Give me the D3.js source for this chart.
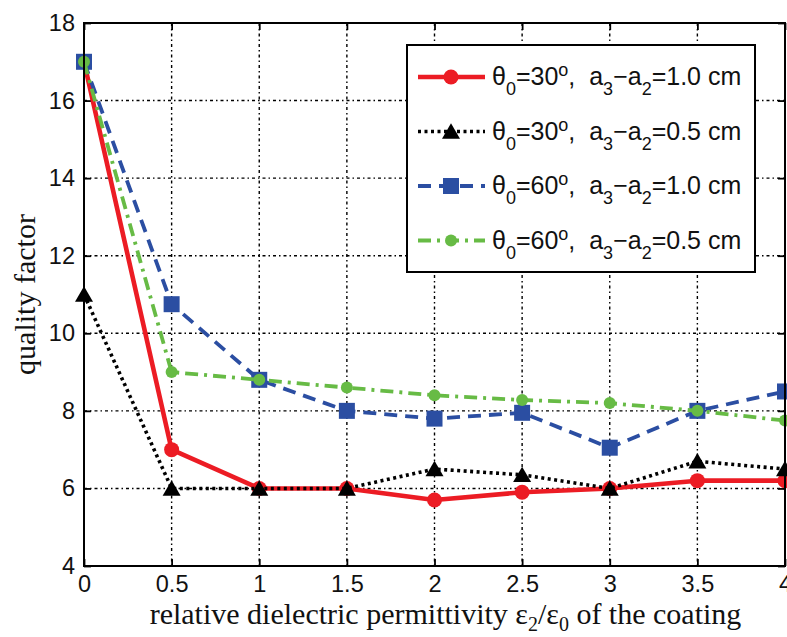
<!DOCTYPE html>
<html>
<head>
<meta charset="utf-8">
<script src="https://cdn.jsdelivr.net/npm/d3@7"></script>
<style>
  html, body { margin: 0; padding: 0; background: #fff; }
  svg { display: block; }
</style>
</head>
<body>
<svg id="chart" width="787" height="637"></svg>
<script>
// Relative permittivity of the coating (x) and quality factor of each configuration
const epsRatio = [0, 0.5, 1, 1.5, 2, 2.5, 3, 3.5, 4];
const q30_10 = [17, 7.0, 6.0, 6.0, 5.7, 5.9, 6.0, 6.2, 6.2];
const q30_05 = [11, 6.0, 6.0, 6.0, 6.5, 6.35, 6.0, 6.7, 6.5];
const q60_10 = [17, 10.75, 8.8, 8.0, 7.8, 7.95, 7.05, 8.0, 8.5];
const q60_05 = [17, 9.0, 8.8, 8.6, 8.4, 8.28, 8.2, 8.0, 7.75];
const xTicks = [0, 0.5, 1, 1.5, 2, 2.5, 3, 3.5, 4];
const yTicks = [4, 6, 8, 10, 12, 14, 16, 18];
const seriesAngles = ["30", "30", "60", "60"];
const seriesGaps = ["1.0", "0.5", "1.0", "0.5"];

const svg = d3.select("#chart");
const plotL = 84, plotR = 785, plotT = 23, plotB = 566;

const x = d3.scaleLinear().domain([0, 4]).range([plotL, plotR]);
const y = d3.scaleLinear().domain([4, 18]).range([plotB, plotT]);

// grid
const grid = svg.append("g").attr("stroke", "#000").attr("stroke-width", 1.4)
  .attr("stroke-dasharray", "3,3,1.5,3").attr("fill", "none");
grid.selectAll("line.v").data(xTicks.filter(d => d > 0 && d < 4)).join("line")
  .attr("class", "v")
  .attr("x1", d => x(d)).attr("x2", d => x(d)).attr("y1", plotT).attr("y2", plotB);
grid.selectAll("line.h").data(yTicks.filter(d => d > 4 && d < 18)).join("line")
  .attr("class", "h")
  .attr("x1", plotL).attr("x2", plotR).attr("y1", d => y(d)).attr("y2", d => y(d));

// axes with inward ticks on all four sides
const tickFont = "'Liberation Sans', Arial, sans-serif";
const gx = svg.append("g").attr("transform", `translate(0,${plotB})`)
  .call(d3.axisBottom(x).tickValues(xTicks).tickSizeInner(-7).tickSizeOuter(0).tickPadding(9)
    .tickFormat(d3.format("")));
const gxTop = svg.append("g").attr("transform", `translate(0,${plotT})`)
  .call(d3.axisTop(x).tickValues(xTicks).tickSizeInner(-7).tickSizeOuter(0).tickFormat(""));
const gy = svg.append("g").attr("transform", `translate(${plotL},0)`)
  .call(d3.axisLeft(y).tickValues(yTicks).tickSizeInner(-7).tickSizeOuter(0).tickPadding(9)
    .tickFormat(d3.format("")));
const gyRight = svg.append("g").attr("transform", `translate(${plotR},0)`)
  .call(d3.axisRight(y).tickValues(yTicks).tickSizeInner(-7).tickSizeOuter(0).tickFormat(""));
[gx, gxTop, gy, gyRight].forEach(g => {
  g.select(".domain").remove();
  g.selectAll(".tick line").attr("stroke", "#000").attr("stroke-width", 1.8);
  g.selectAll("text").attr("font-family", tickFont).attr("font-size", 23.5).attr("fill", "#111");
});

// series
const series = [
  { values: q30_10, color: "#ec1c24", width: 4.6, dash: null, marker: "circle", size: 7.5 },
  { values: q30_05, color: "#000000", width: 3.6, dash: "3,3.5", marker: "triangle", size: 9 },
  { values: q60_10, color: "#2b4ea2", width: 3.8, dash: "13,8", marker: "square", size: 8 },
  { values: q60_05, color: "#67bb45", width: 3.8, dash: "13,6,3,6", marker: "circle", size: 6 }
];

const line = d3.line().x((d, i) => x(epsRatio[i])).y(d => y(d));

function drawMarker(g, kind, cx, cy, s, color) {
  if (kind === "circle") {
    g.append("circle").attr("cx", cx).attr("cy", cy).attr("r", s).attr("fill", color);
  } else if (kind === "square") {
    g.append("rect").attr("x", cx - s).attr("y", cy - s).attr("width", 2 * s).attr("height", 2 * s)
      .attr("fill", color);
  } else {
    const h = s * 1.6;
    g.append("path")
      .attr("d", `M${cx},${cy - h / 2 - 1}L${cx + s},${cy + h / 2}L${cx - s},${cy + h / 2}Z`)
      .attr("fill", color);
  }
}

series.forEach(s => {
  const g = svg.append("g");
  g.append("path").datum(s.values).attr("d", line).attr("fill", "none")
    .attr("stroke", s.color).attr("stroke-width", s.width)
    .attr("stroke-dasharray", s.dash).attr("stroke-linejoin", "round");
  s.values.forEach((v, i) => drawMarker(g, s.marker, x(epsRatio[i]), y(v), s.size, s.color));
});

// frame
svg.append("rect").attr("x", plotL).attr("y", plotT).attr("width", plotR - plotL).attr("height", plotB - plotT)
  .attr("fill", "none").attr("stroke", "#000").attr("stroke-width", 2);

// legend
const lg = svg.append("g");
lg.append("rect").attr("x", 407).attr("y", 45).attr("width", 348).attr("height", 227)
  .attr("fill", "#fff").attr("stroke", "#000").attr("stroke-width", 2);
series.forEach((s, i) => {
  const cy = 77 + i * 54.5;
  lg.append("line").attr("x1", 418).attr("x2", 485).attr("y1", cy).attr("y2", cy)
    .attr("stroke", s.color).attr("stroke-width", s.width).attr("stroke-dasharray", s.dash);
  drawMarker(lg, s.marker, 451, cy, s.size, s.color);
  const t = lg.append("text").attr("x", 492).attr("y", cy + 8)
    .attr("font-family", tickFont).attr("font-size", 25).attr("fill", "#111");
  t.append("tspan").text("θ");
  t.append("tspan").attr("font-size", 18).attr("dy", 10).text("0");
  t.append("tspan").attr("dy", -10).text("=" + seriesAngles[i]);
  t.append("tspan").attr("font-size", 18).attr("dy", -9).text("o");
  t.append("tspan").attr("dy", 9).text(",\u00a0\u00a0a");
  t.append("tspan").attr("font-size", 18).attr("dy", 10).text("3");
  t.append("tspan").attr("dy", -10).text("\u2212a");
  t.append("tspan").attr("font-size", 18).attr("dy", 10).text("2");
  t.append("tspan").attr("dy", -10).text("=" + seriesGaps[i] + " cm");
});

// axis titles
const serif = "'Liberation Serif', 'Times New Roman', serif";
const xt = svg.append("text").attr("x", (plotL + plotR) / 2 + 11).attr("y", 624)
  .attr("text-anchor", "middle").attr("font-family", serif).attr("font-size", 30).attr("fill", "#111");
xt.append("tspan").text("relative dielectric permittivity ε");
xt.append("tspan").attr("font-size", 20).attr("dy", 7).text("2");
xt.append("tspan").attr("dy", -7).text("/ε");
xt.append("tspan").attr("font-size", 20).attr("dy", 7).text("0");
xt.append("tspan").attr("dy", -7).text(" of the coating");

svg.append("text").attr("transform", `translate(35,${(plotT + plotB) / 2}) rotate(-90)`)
  .attr("text-anchor", "middle").attr("font-family", serif).attr("font-size", 30).attr("fill", "#111")
  .text("quality factor");
</script>
</body>
</html>
